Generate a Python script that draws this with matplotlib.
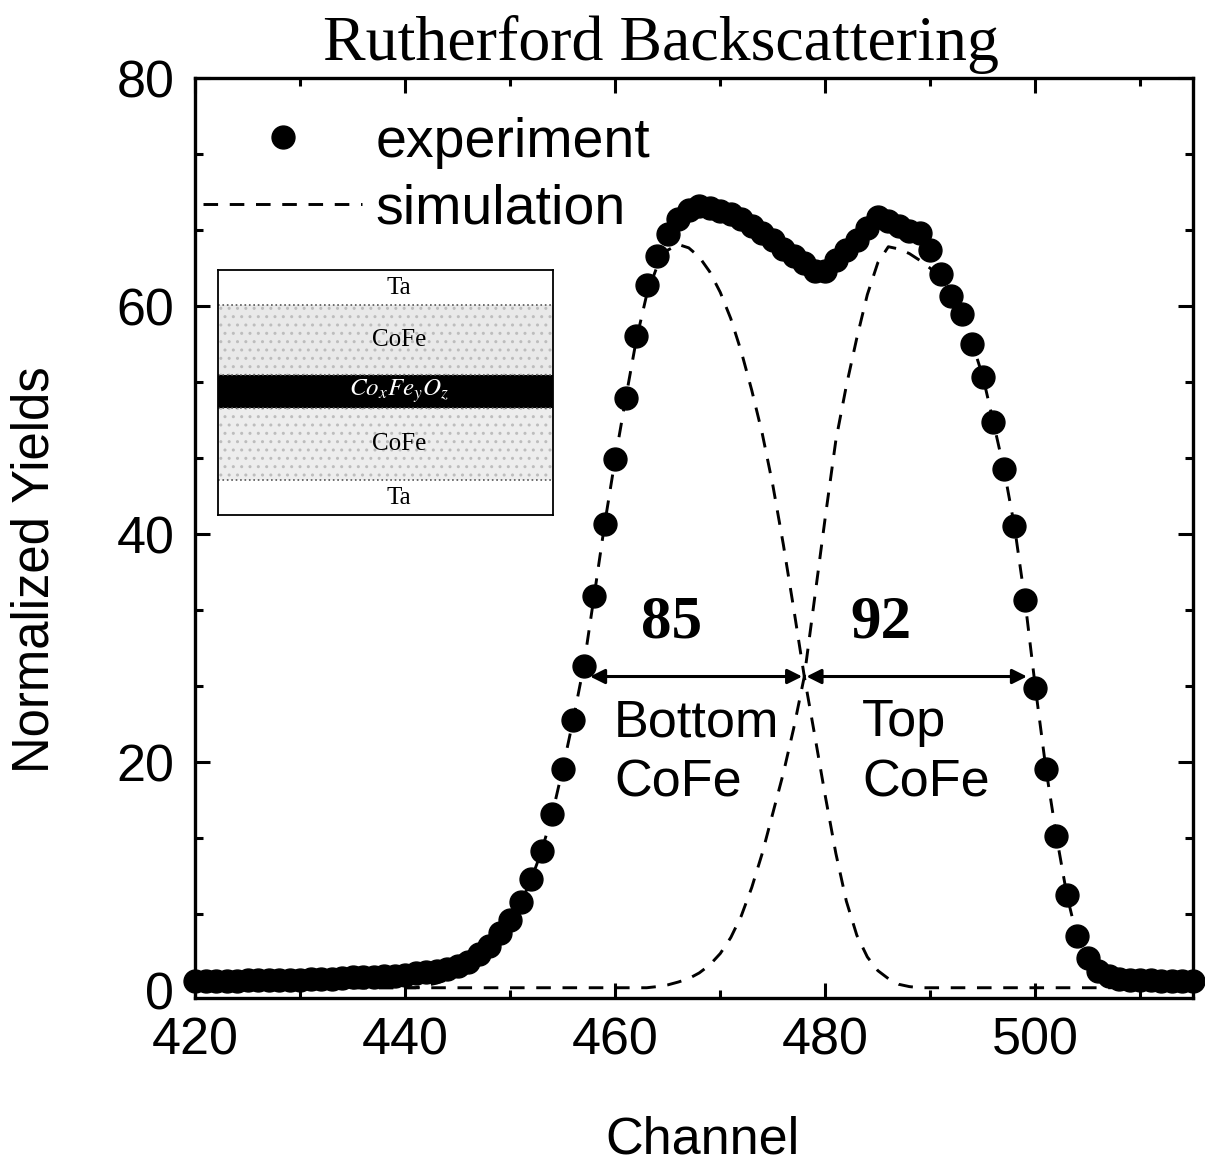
import numpy as np
import matplotlib
matplotlib.use('Agg')
import matplotlib.pyplot as plt
from matplotlib.ticker import MultipleLocator, AutoMinorLocator
from matplotlib.lines import Line2D

plt.rcParams['font.family'] = ['Liberation Sans', 'DejaVu Sans']
plt.rcParams['mathtext.fontset'] = 'stix'

# RBS spectrum, one value per channel
channels = np.arange(420, 516)
yields = [
    0.8, 0.8, 0.8, 0.8, 0.8, 0.85, 0.85, 0.85, 0.9, 0.9,
    0.9, 0.95, 1.0, 1.0, 1.05, 1.1, 1.1, 1.15, 1.2, 1.25,
    1.3, 1.45, 1.55, 1.7, 1.85, 2.1, 2.5, 3.2, 3.9, 5.0,
    6.1, 7.7, 9.7, 12.2, 15.4, 19.4, 23.7, 28.4, 34.6, 40.9,
    46.6, 51.9, 57.4, 61.8, 64.4, 66.3, 67.6, 68.4, 68.8, 68.6,
    68.3, 68.1, 67.6, 67.0, 66.4, 65.8, 65.0, 64.4, 63.8, 63.1,
    63.1, 64.0, 64.9, 65.8, 66.8, 67.8, 67.5, 67.0, 66.6, 66.4,
    64.9, 62.8, 60.9, 59.3, 56.7, 53.8, 49.8, 45.7, 40.7, 34.2,
    26.5, 19.4, 13.5, 8.3, 4.7, 2.8, 1.7, 1.2, 1.0, 0.9,
    0.85, 0.85, 0.8, 0.8, 0.8, 0.8,
]

# simulated contributions of the two CoFe layers
sim_bottom = [0.2] * 22 + [
    0.4, 0.6, 0.9, 1.2, 1.7, 2.5, 3.4, 4.6,
    5.9, 7.6, 9.7, 12.2, 15.4, 19.4, 23.7, 28.4, 34.6, 40.9,
    46.6, 51.9, 57.0, 61.0, 63.5, 64.9, 65.4, 65.1, 64.3, 63.0,
    61.2, 58.9, 56.0, 52.6, 48.8, 44.3, 39.1, 33.4, 27.5, 22.3,
    17.0, 12.0, 7.8, 4.8, 2.9, 1.7, 1.0, 0.5, 0.3, 0.2,
] + [0.2] * 26

sim_top = [0.2] * 44 + [
    0.3, 0.45, 0.7, 1.0, 1.5, 2.2,
    3.2, 4.6, 6.5, 9.0, 12.0, 15.5, 19.0, 23.0, 27.5, 34.5,
    41.5, 48.2, 53.0, 57.2, 61.0, 63.8, 65.2, 65.0, 64.6, 64.0,
    63.3, 62.3, 60.9, 59.0, 56.7, 53.8, 49.8, 45.7, 40.7, 34.2,
    26.5, 19.4, 13.5, 8.3, 4.5, 2.2, 1.0, 0.5, 0.3, 0.2,
] + [0.2] * 6

# widths of the two layers (half-height spans)
half_height = 27.5
span_bottom = [457.6, 477.8]
span_top = [478.2, 499.2]
width_labels = ['85', '92']

# layer stack for the sketch
layer_names = ['Ta', 'CoFe', r'$Co_xFe_yO_z$', 'CoFe', 'Ta']
layer_thick = [35, 70, 33, 72, 35]
layer_colors = ['white', '#e9e9e9', 'black', '#ededed', 'white']
layer_text = ['black', 'black', 'white', 'black', 'black']

fig = plt.figure(figsize=(12.05, 11.69), dpi=100)
ax = fig.add_axes([195 / 1205, 1 - 998 / 1169, 998 / 1205, 920 / 1169])

dash = (0, (5, 4))
ax.plot(channels, sim_bottom, color='black', lw=2.1, linestyle=dash, zorder=2)
ax.plot(channels, sim_top, color='black', lw=2.1, linestyle=dash, zorder=2)
ax.plot(channels, yields, 'o', color='black', ms=16.5, clip_on=False, zorder=3)

arrow = dict(arrowstyle='<|-|>', color='black', lw=2.2, mutation_scale=22,
             shrinkA=0, shrinkB=0)
ax.annotate('', xy=(span_bottom[0], half_height), xytext=(span_bottom[1], half_height),
            arrowprops=arrow, zorder=4)
ax.annotate('', xy=(span_top[0], half_height), xytext=(span_top[1], half_height),
            arrowprops=arrow, zorder=4)
ax.text(np.mean(span_bottom) - 2.3, 32.2, width_labels[0], family='Liberation Serif',
        fontweight='bold', fontsize=44, ha='center', va='center')
ax.text(np.mean(span_top) - 3.4, 32.2, width_labels[1], family='Liberation Serif',
        fontweight='bold', fontsize=44, ha='center', va='center')
ax.text(459.9, 20.8, 'Bottom\nCoFe', fontsize=37.5, ha='left', va='center',
        linespacing=1.3)
ax.text(483.5, 20.8, 'Top\nCoFe', fontsize=37.5, ha='left', va='center',
        linespacing=1.3)

ax.set_xlim(420, 515)
ax.set_ylim(-0.7, 80)
ax.xaxis.set_major_locator(MultipleLocator(20))
ax.xaxis.set_minor_locator(MultipleLocator(10))
ax.yaxis.set_major_locator(MultipleLocator(20))
ax.yaxis.set_minor_locator(AutoMinorLocator(3))
ax.tick_params(which='both', direction='in', top=True, right=True, width=2.2,
               labelsize=37.5)
ax.tick_params(which='major', length=11)
ax.tick_params(which='minor', length=6)
ax.tick_params(axis='x', pad=13)
ax.tick_params(axis='y', pad=15)
for s in ax.spines.values():
    s.set_linewidth(2.4)

handles = [Line2D([], [], marker='o', color='black', ls='none', ms=16.5),
           Line2D([], [], color='black', lw=2.1, linestyle=dash)]
ax.legend(handles, ['experiment', 'simulation'], loc='upper left',
          bbox_to_anchor=(0.0, 0.967), frameon=False, fontsize=40,
          handlelength=2.85, handletextpad=0.25, labelspacing=0.27,
          borderpad=0.15, borderaxespad=0.0, numpoints=1)

fig.text(661 / 1205, 1 - 60 / 1169, 'Rutherford Backscattering',
         family='Liberation Serif', fontsize=46, ha='center', va='baseline')
fig.text(35 / 1205, 1 - 570 / 1169, 'Normalized Yields', fontsize=36.6,
         rotation=90, ha='center', va='center')
fig.text(703 / 1205, 1 - 1140 / 1169, 'Channel', fontsize=37.5,
         ha='center', va='center')

# layer stack sketch
ins = fig.add_axes([218 / 1205, 1 - 515 / 1169, 335 / 1205, 245 / 1169])
total = sum(layer_thick)
top = total
for name, th, fc, tc in zip(layer_names, layer_thick, layer_colors, layer_text):
    bottom = top - th
    ins.axhspan(bottom, top, facecolor=fc, edgecolor='none')
    if fc != 'black' and fc != 'white':
        ins.axhspan(bottom, top, facecolor='none', edgecolor='#bdbdbd',
                    hatch='..', lw=0)
    ins.text(0.54, (top + bottom) / 2, name, color=tc, family='Liberation Serif',
             fontsize=18, ha='center', va='center')
    if top != total:
        ins.axhline(top, color='#555555', lw=1.2, ls=':')
    top = bottom
ins.set_xlim(0, 1)
ins.set_ylim(0, total)
ins.set_xticks([])
ins.set_yticks([])
for s in ins.spines.values():
    s.set_linewidth(1.3)

fig.savefig('out.png', dpi=100)
